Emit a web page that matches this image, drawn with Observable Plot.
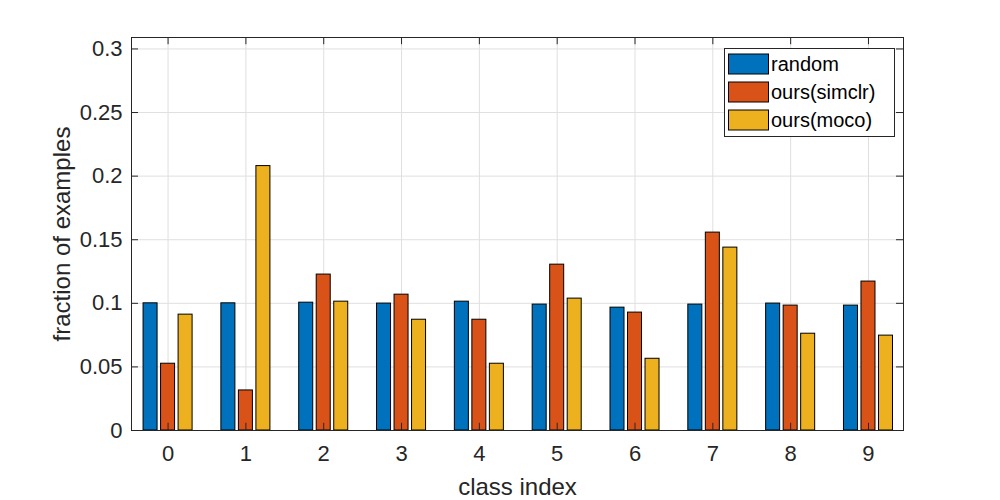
<!DOCTYPE html>
<html>
<head>
<meta charset="utf-8">
<script src="https://cdn.jsdelivr.net/npm/d3@7"></script>
<script src="https://cdn.jsdelivr.net/npm/@observablehq/plot@0.6"></script>
<style>
  html, body { margin: 0; padding: 0; background: #fff; }
  #chart { width: 1000px; height: 500px; }
  svg { font-family: "Liberation Sans", Arial, sans-serif; }
</style>
</head>
<body>
<div id="chart"></div>
<script>
const classes = [0, 1, 2, 3, 4, 5, 6, 7, 8, 9];
const seriesNames = ["random", "ours(simclr)", "ours(moco)"];
const random = [0.1, 0.1, 0.1005, 0.0998, 0.1013, 0.099, 0.0966, 0.099, 0.0998, 0.0982];
const simclr = [0.0525, 0.0315, 0.1226, 0.1068, 0.0871, 0.1304, 0.0927, 0.1556, 0.0982, 0.1171];
const moco = [0.0911, 0.2079, 0.1013, 0.0871, 0.0525, 0.1037, 0.0564, 0.1438, 0.0761, 0.0746];
const yTicks = [0, 0.05, 0.1, 0.15, 0.2, 0.25, 0.3];
const yTickLabels = ["0", "0.05", "0.1", "0.15", "0.2", "0.25", "0.3"];
const xLabel = "class index";
const yLabel = "fraction of examples";
const colors = ["#0072BD", "#D95319", "#EDB120"];

const seriesValues = [random, simclr, moco];
const data = classes.flatMap((c, i) =>
  seriesValues.map((arr, s) => ({ cls: c, s, series: seriesNames[s], value: arr[i] }))
);

const xDom = [-0.47, 9.45];
const yDom = [0, 0.309];
const off = 0.225, bw = 0.18;
const tickLenX = 0.0057; // ~7px in y units
const tickLenY = 0.09;   // ~7px in x units
const ink = "#262626";
const gridC = "#dfdfdf";

const plot = Plot.plot({
  width: 1000,
  height: 500,
  marginLeft: 131,
  marginRight: 97,
  marginTop: 37,
  marginBottom: 70,
  style: { fontFamily: "'Liberation Sans', Arial, sans-serif", fontSize: "22px", color: ink, background: "white" },
  x: { domain: xDom, label: null },
  y: { domain: yDom, label: null },
  color: { domain: seriesNames, range: colors },
  marks: [
    Plot.ruleX(classes, { x: d => d, stroke: gridC, strokeWidth: 1 }),
    Plot.ruleY(yTicks, { y: d => d, stroke: gridC, strokeWidth: 1 }),
    Plot.rect(data, {
      x1: d => d.cls + (d.s - 1) * off - bw / 2,
      x2: d => d.cls + (d.s - 1) * off + bw / 2,
      y1: 0,
      y2: "value",
      fill: "series",
      stroke: "black",
      strokeWidth: 1
    }),
    // inside ticks
    Plot.ruleX(classes, { x: d => d, y1: yDom[0], y2: yDom[0] + tickLenX, stroke: ink }),
    Plot.ruleX(classes, { x: d => d, y1: yDom[1], y2: yDom[1] - tickLenX, stroke: ink }),
    Plot.ruleY(yTicks, { y: d => d, x1: xDom[0], x2: xDom[0] + tickLenY, stroke: ink }),
    Plot.ruleY(yTicks, { y: d => d, x1: xDom[1], x2: xDom[1] - tickLenY, stroke: ink }),
    Plot.frame({ stroke: ink, strokeWidth: 1 }),
    Plot.axisX(classes, { tickSize: 0, tickPadding: 15, fontSize: 22, tickFormat: d => String(d), label: null }),
    Plot.axisY(yTicks, { tickSize: 0, tickPadding: 9, fontSize: 22, tickFormat: d => yTickLabels[yTicks.indexOf(d)], label: null }),
    Plot.text([xLabel], { text: d => d, frameAnchor: "bottom", textAnchor: "middle", lineAnchor: "middle", dy: 57, fontSize: 24, fill: ink }),
    Plot.text([yLabel], { text: d => d, frameAnchor: "left", textAnchor: "middle", lineAnchor: "middle", rotate: -90, dx: -69, fontSize: 24, fill: ink })
  ]
});

document.getElementById("chart").appendChild(plot);

// Legend (drawn into the same SVG)
const svg = d3.select(plot);
const lg = svg.append("g")
  .attr("font-family", "'Liberation Sans', Arial, sans-serif")
  .attr("font-size", 20)
  .attr("text-anchor", "start");
lg.append("rect").attr("x", 724.5).attr("y", 48.5).attr("width", 170).attr("height", 88)
  .attr("fill", "white").attr("stroke", ink);
seriesNames.forEach((name, i) => {
  const cy = 64 + i * 28;
  lg.append("rect").attr("x", 728.5).attr("y", cy - 10).attr("width", 40).attr("height", 20)
    .attr("fill", colors[i]).attr("stroke", "black");
  lg.append("text").attr("x", 771).attr("y", cy).attr("dy", "0.35em").attr("fill", "black")
    .attr("text-anchor", "start").text(name);
});
</script>
</body>
</html>
